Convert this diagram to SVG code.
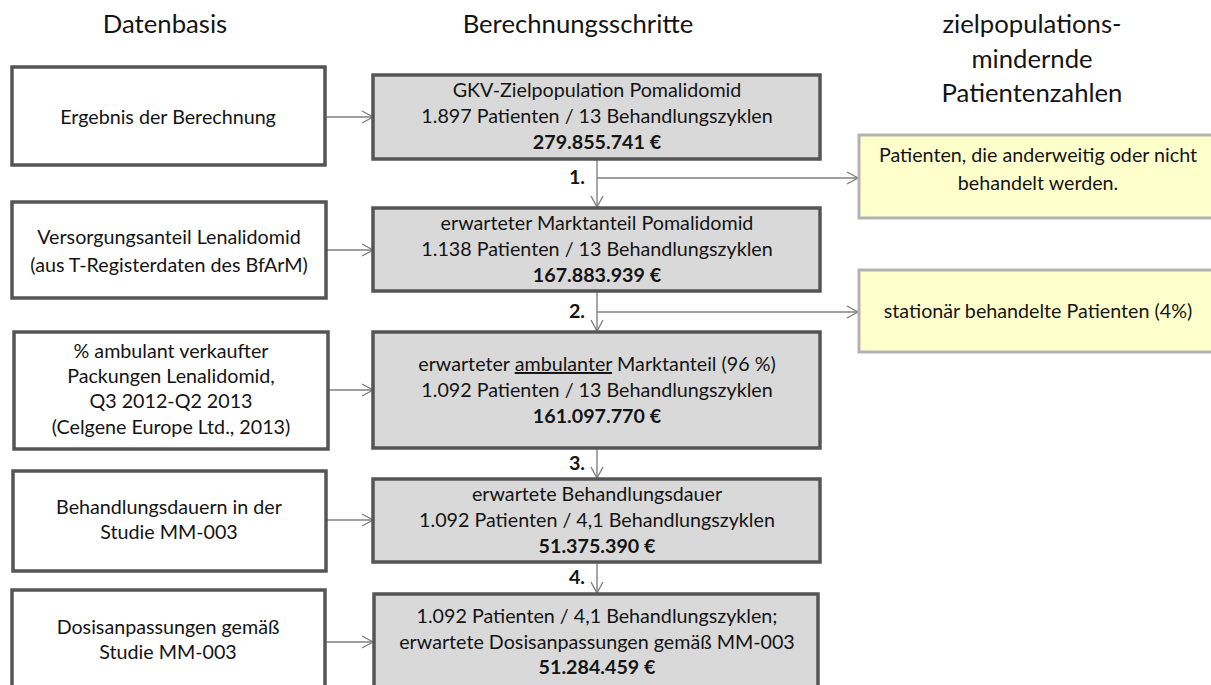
<svg xmlns="http://www.w3.org/2000/svg" width="1211" height="685" viewBox="0 0 1211 685">
<style>
text{font-family:Lato,"Liberation Sans",sans-serif;fill:#141414;text-anchor:middle}
.h{font-size:25.7px}
.t{font-size:19.7px}
.b{font-weight:bold}
.src{fill:#fff;stroke:#555;stroke-width:3.5}
.step{fill:#d9d9d9;stroke:#555;stroke-width:3.5}
.res{fill:#ffffcc;stroke:#b3b3b3;stroke-width:3}
.c{fill:none;stroke:#808080;stroke-width:1.4;marker-end:url(#ah)}
</style>
<defs>
<marker id="ah" markerUnits="userSpaceOnUse" markerWidth="14" markerHeight="14" refX="12" refY="7" orient="auto">
<path d="M1,1 L12,7 L1,13" fill="none" stroke="#808080" stroke-width="1.4"/>
</marker>
</defs>
<g id="headers">
<text class="h" x="165" y="33">Datenbasis</text>
<text class="h" x="578" y="33">Berechnungsschritte</text>
<text class="h" x="1032" y="33">zielpopulations-</text>
<text class="h" x="1032" y="68">mindernde</text>
<text class="h" x="1032" y="102">Patientenzahlen</text>
</g>
<g id="connectors">
<line class="c" x1="326" y1="117" x2="373" y2="117"/>
<line class="c" x1="326" y1="250" x2="373" y2="250"/>
<line class="c" x1="328" y1="390" x2="373" y2="390"/>
<line class="c" x1="326" y1="520" x2="373" y2="520"/>
<line class="c" x1="325" y1="642" x2="373" y2="642"/>
<line class="c" x1="597" y1="160" x2="597" y2="207"/>
<line class="c" x1="597" y1="292" x2="597" y2="331"/>
<line class="c" x1="597" y1="449" x2="597" y2="478"/>
<line class="c" x1="597" y1="563" x2="597" y2="593"/>
<line class="c" x1="597" y1="178" x2="858" y2="178"/>
<line class="c" x1="597" y1="312" x2="858" y2="312"/>
<text class="t b" x="577" y="184">1.</text>
<text class="t b" x="577" y="318">2.</text>
<text class="t b" x="577" y="470">3.</text>
<text class="t b" x="577" y="584">4.</text>
</g>
<g id="src1"><rect class="src" x="12" y="67" width="313" height="98"/><text class="t" x="168" y="124">Ergebnis der Berechnung</text></g>
<g id="src2"><rect class="src" x="12" y="202" width="314" height="96"/><text class="t" x="169" y="244">Versorgungsanteil Lenalidomid</text><text class="t" x="169" y="272">(aus T-Registerdaten des BfArM)</text></g>
<g id="src3"><rect class="src" x="14" y="332" width="314" height="117"/><text class="t" x="171" y="358">% ambulant verkaufter</text><text class="t" x="171" y="383">Packungen Lenalidomid,</text><text class="t" x="171" y="408">Q3 2012-Q2 2013</text><text class="t" x="171" y="434">(Celgene Europe Ltd., 2013)</text></g>
<g id="src4"><rect class="src" x="13" y="471" width="313" height="100"/><text class="t" x="169" y="514">Behandlungsdauern in der</text><text class="t" x="169" y="539">Studie MM-003</text></g>
<g id="src5"><rect class="src" x="12" y="590" width="313" height="110"/><text class="t" x="168" y="634">Dosisanpassungen gemäß</text><text class="t" x="168" y="659">Studie MM-003</text></g>
<g id="step1"><rect class="step" x="373" y="75" width="447" height="84"/><text class="t" x="597" y="97">GKV-Zielpopulation Pomalidomid</text><text class="t" x="597" y="123">1.897 Patienten / 13 Behandlungszyklen</text><text class="t b" x="597" y="149">279.855.741 €</text></g>
<g id="step2"><rect class="step" x="373" y="208" width="447" height="83"/><text class="t" x="597" y="230">erwarteter Marktanteil Pomalidomid</text><text class="t" x="597" y="256">1.138 Patienten / 13 Behandlungszyklen</text><text class="t b" x="597" y="282">167.883.939 €</text></g>
<g id="step3"><rect class="step" x="373" y="332" width="447" height="116"/><text class="t" x="597" y="371">erwarteter <tspan text-decoration="underline">ambulanter</tspan> Marktanteil (96 %)</text><text class="t" x="597" y="397">1.092 Patienten / 13 Behandlungszyklen</text><text class="t b" x="597" y="423">161.097.770 €</text></g>
<g id="step4"><rect class="step" x="373" y="479" width="447" height="83"/><text class="t" x="597" y="501">erwartete Behandlungsdauer</text><text class="t" x="597" y="527">1.092 Patienten / 4,1 Behandlungszyklen</text><text class="t b" x="597" y="553">51.375.390 €</text></g>
<g id="step5"><rect class="step" x="374" y="594" width="444" height="110"/><text class="t" x="597" y="623">1.092 Patienten / 4,1 Behandlungszyklen;</text><text class="t" x="597" y="649">erwartete Dosisanpassungen gemäß MM-003</text><text class="t b" x="597" y="674">51.284.459 €</text></g>
<g id="res1"><rect class="res" x="859" y="135" width="358" height="83"/><text class="t" x="1038" y="162">Patienten, die anderweitig oder nicht</text><text class="t" x="1038" y="190">behandelt werden.</text></g>
<g id="res2"><rect class="res" x="859" y="270" width="358" height="82"/><text class="t" x="1038" y="318">stationär behandelte Patienten (4%)</text></g>
</svg>
